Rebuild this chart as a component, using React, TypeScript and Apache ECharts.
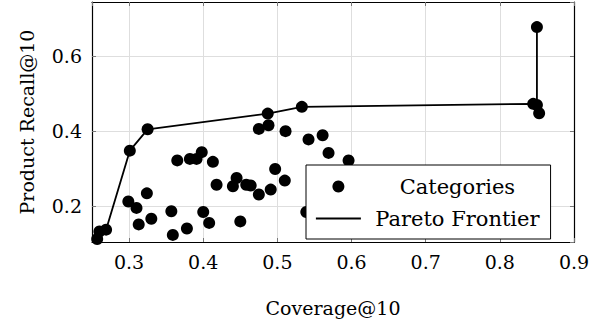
import React, { useEffect, useRef } from "react";
import * as echarts from "echarts";

// Pareto frontier (ordered along the line)
const paretoX = [0.257, 0.26, 0.269, 0.301, 0.325, 0.487, 0.533, 0.845, 0.85, 0.85];
const paretoY = [0.112, 0.132, 0.137, 0.348, 0.405, 0.447, 0.465, 0.473, 0.47, 0.678];

// Remaining categories
const otherX = [
  0.299, 0.31, 0.313, 0.324, 0.33, 0.357, 0.359, 0.365, 0.378, 0.382, 0.391, 0.398,
  0.4, 0.408, 0.413, 0.418, 0.44, 0.445, 0.45, 0.458, 0.464, 0.475, 0.491, 0.497,
  0.51, 0.539, 0.569, 0.596, 0.475, 0.488, 0.511, 0.542, 0.561, 0.853,
];
const otherY = [
  0.212, 0.195, 0.151, 0.234, 0.166, 0.186, 0.123, 0.322, 0.14, 0.326, 0.326, 0.344,
  0.184, 0.155, 0.318, 0.257, 0.253, 0.275, 0.159, 0.257, 0.255, 0.231, 0.244, 0.299,
  0.268, 0.184, 0.342, 0.322, 0.406, 0.416, 0.4, 0.378, 0.389, 0.448,
];

const xRange = [0.25, 0.9];
const yRange = [0.104, 0.745];

const FONT = "DejaVu Serif";

export default function App() {
  const ref = useRef<HTMLDivElement>(null);
  useEffect(() => {
    if (!ref.current) return;
    const chart = echarts.init(ref.current, undefined, { renderer: "svg" });
    const catData = [
      ...paretoX.map((x, i) => [x, paretoY[i]]),
      ...otherX.map((x, i) => [x, otherY[i]]),
    ];
    const lineData = paretoX.map((x, i) => [x, paretoY[i]]);
    const tick = { show: true, inside: true, length: 4, lineStyle: { color: "#777", width: 1 } };
    const axisLine = { show: true, onZero: false, lineStyle: { color: "#000", width: 1.2 } };
    const split = { show: true, lineStyle: { color: "#dedede", width: 1 } };
    chart.setOption({
      animation: false,
      textStyle: { fontFamily: FONT },
      grid: { left: 92, right: 34, top: 2, bottom: 73 },
      xAxis: [
        {
          type: "value",
          min: xRange[0],
          max: xRange[1],
          splitNumber: 6,
          axisLine,
          axisTick: tick,
          splitLine: split,
          axisLabel: {
            showMinLabel: false,
            margin: 10,
            fontSize: 19,
            fontFamily: FONT,
            color: "#000",
          },
          name: "Coverage@10",
          nameLocation: "middle",
          nameGap: 56,
          nameTextStyle: { fontSize: 19, fontFamily: FONT, color: "#000" },
        },
        {
          type: "value",
          position: "top",
          min: xRange[0],
          max: xRange[1],
          splitNumber: 6,
          axisLine,
          axisTick: tick,
          splitLine: { show: false },
          axisLabel: { show: false },
        },
      ],
      yAxis: [
        {
          type: "value",
          min: yRange[0],
          max: yRange[1],
          splitNumber: 3,
          axisLine,
          axisTick: tick,
          splitLine: split,
          axisLabel: {
            showMinLabel: false,
            showMaxLabel: false,
            margin: 10,
            fontSize: 19,
            fontFamily: FONT,
            color: "#000",
          },
          name: "Product Recall@10",
          nameLocation: "middle",
          nameRotate: 90,
          nameGap: 56,
          nameTextStyle: { fontSize: 19, fontFamily: FONT, color: "#000" },
        },
        {
          type: "value",
          position: "right",
          min: yRange[0],
          max: yRange[1],
          splitNumber: 3,
          axisLine,
          axisTick: tick,
          splitLine: { show: false },
          axisLabel: { show: false },
        },
      ],
      legend: {
        orient: "vertical",
        left: 306,
        top: 165,
        padding: [11, 11, 10, 9],
        itemGap: 11,
        itemWidth: 45,
        itemHeight: 12,
        backgroundColor: "#fff",
        borderColor: "#000",
        borderWidth: 1,
        borderRadius: 0,
        data: [
          { name: "Categories" },
          {
            name: "Pareto Frontier",
            itemStyle: { color: "rgba(0,0,0,0)", borderColor: "rgba(0,0,0,0)", borderWidth: 0 },
            lineStyle: { color: "#000", width: 1.8 },
          },
        ],
        formatter: (name: string) => `{t|${name}}`,
        textStyle: {
          fontSize: 21,
          fontFamily: FONT,
          color: "#000",
          rich: {
            t: { width: 183, height: 22, align: "center", fontSize: 21, fontFamily: FONT, color: "#000" },
          },
        },
      },
      series: [
        {
          name: "Pareto Frontier",
          type: "line",
          data: lineData,
          symbol: "none",
          lineStyle: { color: "#000", width: 1.8 },
          itemStyle: { color: "#000" },
          z: 2,
        },
        {
          name: "Categories",
          type: "scatter",
          data: catData,
          symbol: "circle",
          symbolSize: 12,
          itemStyle: { color: "#000", opacity: 1 },
          z: 3,
        },
      ],
    });
    return () => chart.dispose();
  }, []);
  return (
    <div
      ref={ref}
      style={{ position: "fixed", left: 0, top: 0, width: 608, height: 322, background: "#fff" }}
    />
  );
}
